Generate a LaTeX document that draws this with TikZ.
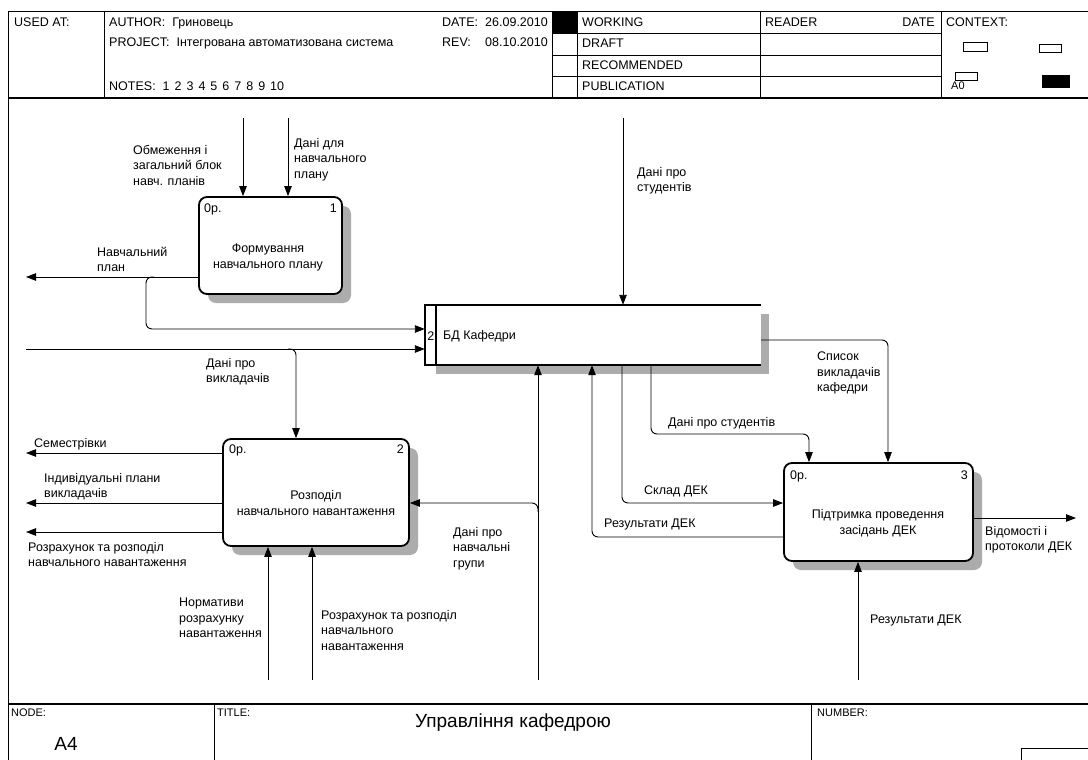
\documentclass[tikz,border=0pt]{standalone}
\usepackage{fontspec}
\setmainfont{Liberation Sans}
\usetikzlibrary{arrows.meta,calc}
\definecolor{shadowgray}{RGB}{172,172,172}
\begin{document}
\begin{tikzpicture}[x=1pt,y=-1pt,
  lbl/.style={anchor=north west,inner sep=0pt,align=left,font=\fontsize{12.5}{15.5}\selectfont},
  hdr/.style={anchor=north west,inner sep=0pt,font=\fontsize{12.5}{15}\selectfont},
  hdrr/.style={anchor=north east,inner sep=0pt,font=\fontsize{12.5}{15}\selectfont},
  small/.style={anchor=north west,inner sep=0pt,font=\fontsize{11}{13}\selectfont},
  conn/.style={line width=0.9pt,rounded corners=6pt},
  arr/.style={conn,-{Triangle[length=10pt,width=7.5pt]}},
  actbox/.style={draw,line width=1.8pt,rounded corners=8pt,fill=white,inner sep=0pt,
    preaction={draw=none,fill=shadowgray,transform canvas={xshift=9pt,yshift=-9pt}}},
  boxtext/.style={anchor=north,inner sep=0pt,align=center,font=\fontsize{12.5}{16}\selectfont},
  frame/.style={line width=0.8pt},
  thickframe/.style={line width=1.6pt}
]
\useasboundingbox (0,0) rectangle (1088,760);
\fill[white] (0,0) rectangle (1088,760);
\clip (0,0) rectangle (1088,760);

% ---------- header ----------
\draw[frame] (8,760) -- (8,11) -- (1088,11);
\draw[thickframe] (8,98) -- (1088,98);
\foreach \x in {104,552,577,760,941} \draw[frame] (\x,11) -- (\x,98);
\foreach \y in {33,55,76} \draw[frame] (552,\y) -- (941,\y);
\fill (552,11) rectangle (577,33);
\node[hdr] (usedat) at (14,18) {USED AT:};
\node[hdr] (author) at (109,18) {AUTHOR:\ \ Гриновець};
\node[hdr] (project) at (109,38) {PROJECT:\ \ Інтегрована автоматизована система};
\node[hdr] (notes) at (109,82) {NOTES:\ \ 1\hspace{5pt}2\hspace{5pt}3\hspace{5pt}4\hspace{5pt}5\hspace{5pt}6\hspace{5pt}7\hspace{5pt}8\hspace{5pt}9\hspace{5pt}10};
\node[hdr] (datel) at (442,18) {DATE:};
\node[hdrr] (datev) at (548,18) {26.09.2010};
\node[hdr] (revl) at (442,38) {REV:};
\node[hdrr] (revv) at (548,38) {08.10.2010};
\node[hdr] (working) at (582,18) {WORKING};
\node[hdr] (draft) at (582,39) {DRAFT};
\node[hdr] (recom) at (582,61) {RECOMMENDED};
\node[hdr] (public) at (582,82) {PUBLICATION};
\node[hdr] (reader) at (765,18) {READER};
\node[hdrr] (rdate) at (935,18) {DATE};
\node[hdr] (context) at (946,18) {CONTEXT:};
\draw[frame] (963,42) rectangle (987,51);
\draw[frame] (1039,44) rectangle (1061,52);
\draw[frame] (955,72) rectangle (977,80);
\fill (1042,75) rectangle (1070,88);
\node[small] (a0) at (951,82) {A0};

% ---------- footer ----------
\draw[thickframe] (8,704) -- (1088,704);
\draw[frame] (214,704) -- (214,760);
\draw[frame] (811,704) -- (811,760);
\draw[frame] (1021,748) rectangle (1100,770);
\node[small] (nodel) at (11,709) {NODE:};
\node[small] (titlel) at (217,709) {TITLE:};
\node[small] (numberl) at (817,709) {NUMBER:};
\node[inner sep=0pt,font=\fontsize{19}{22}\selectfont] (title) at (513,723) {Управління кафедрою};
\node[inner sep=0pt,font=\fontsize{19}{22}\selectfont] (nodeno) at (66,744) {A4};

% ---------- activity boxes ----------
\node[actbox,minimum width=143pt,minimum height=97pt] (b1) at (270.5,245.5) {};
\node[actbox,minimum width=186pt,minimum height=107pt] (b2) at (316,492.5) {};
\node[actbox,minimum width=189pt,minimum height=98pt] (b3) at (878.5,512) {};

\node[lbl] (b1c) at (204,204) {0р.};
\node[lbl,anchor=north east] (b1n) at (337,204) {1};
\node[boxtext] (b1t) at (268,244) {Формування\\навчального плану};

\node[lbl] (b2c) at (229,445) {0р.};
\node[lbl,anchor=north east] (b2n) at (404,445) {2};
\node[boxtext] (b2t) at (316,490) {Розподіл\\навчального навантаження};

\node[lbl] (b3c) at (790,471) {0р.};
\node[lbl,anchor=north east] (b3n) at (968,471) {3};
\node[boxtext] (b3t) at (878,509) {Підтримка проведення\\засідань ДЕК};

% ---------- data store ----------
\node[minimum width=336pt,minimum height=60pt,inner sep=0pt] (bd) at (593,335) {};
\fill[shadowgray] ($(bd.north west)+(11,9)$) rectangle ($(bd.south east)+(8,9)$);
\fill[white] (bd.north west) rectangle (bd.south east);
\draw[line width=1.8pt] (bd.north east) -- (bd.north west) -- (bd.south west) -- (bd.south east);
\draw[line width=1.8pt] ($(bd.north west)+(11,0)$) -- ($(bd.south west)+(11,0)$);
\node[lbl,anchor=center] (bdn) at ($(bd.west)+(6,1)$) {2};
\node[lbl,anchor=west] (bdt) at (443,336) {БД Кафедри};

% ---------- connector ends ----------
\coordinate (t1) at (243,118);
\coordinate (t2) at (288,118);
\coordinate (t3) at (623,118);
\coordinate (l1) at (26,277);
\coordinate (j1) at (154,277);
\coordinate (c1) at (146,329);
\coordinate (l2) at (26,349);
\coordinate (j2) at (288,349);
\coordinate (x2) at (296,349);
\coordinate (l3) at (26,453);
\coordinate (l4) at (26,503);
\coordinate (l5) at (26,532);
\coordinate (bt1) at (268,680);
\coordinate (bt2) at (312,680);
\coordinate (bt3) at (538,680);
\coordinate (bt4) at (858,680);
\coordinate (g1) at (538,512);
\coordinate (g2) at (538,503);
\coordinate (k1) at (592,537);
\coordinate (k2) at (622,503);
\coordinate (k3) at (651,434);
\coordinate (k4) at (809,434);
\coordinate (k5) at (888,340);
\coordinate (r1) at (1076,518);

% ---------- connectors ----------
\draw[arr] (t1) -- (t1 |- b1.north);
\draw[arr] (t2) -- (t2 |- b1.north);
\draw[arr] (t3) -- (t3 |- bd.north);
\draw[arr] (l1 -| b1.west) -- (l1);
\draw[arr] (j1) -| (c1) -- (c1 -| bd.west);
\draw[arr] (l2) -- (l2 -| bd.west);
\draw[arr] (j2) -- (x2) -- (x2 |- b2.north);
\draw[arr] (l3 -| b2.west) -- (l3);
\draw[arr] (l4 -| b2.west) -- (l4);
\draw[arr] (l5 -| b2.west) -- (l5);
\draw[arr] (bt1) -- (bt1 |- b2.south);
\draw[arr] (bt2) -- (bt2 |- b2.south);
\draw[arr] (bt3) -- (bt3 |- bd.south);
\draw[arr] (g1) |- (g2 -| b2.east);
\draw[arr] (k1 -| b3.west) -| (bd.south -| k1);
\draw[arr] (bd.south -| k2) |- (k2 -| b3.west);
\draw[arr] (bd.south -| k3) |- (k4) -- (k4 |- b3.north);
\draw[arr] (k5 -| bd.east) -- (k5) -- (k5 |- b3.north);
\draw[arr] (r1 -| b3.east) -- (r1);
\draw[arr] (bt4) -- (bt4 |- b3.south);

% ---------- connector labels ----------
\node[lbl] (a1) at (133,145) {Обмеження і\\загальний блок\\навч. планів};
\node[lbl] (a2) at (294,138) {Дані для\\навчального\\плану};
\node[lbl] (a3) at (97,247) {Навчальний\\план};
\node[lbl] (a4) at (637,167) {Дані про\\студентів};
\node[lbl] (a5) at (206,358) {Дані про\\викладачів};
\node[lbl] (a6) at (817,352) {Список\\викладачів\\кафедри};
\node[lbl] (a7) at (668,417) {Дані про студентів};
\node[lbl] (a8) at (34,438) {Семестрівки};
\node[lbl] (a9) at (44,473) {Індивідуальні плани\\викладачів};
\node[lbl] (a10) at (644,486) {Склад ДЕК};
\node[lbl] (a11) at (604,519) {Результати ДЕК};
\node[lbl] (a12) at (453,527) {Дані про\\навчальні\\групи};
\node[lbl] (a13) at (985,526) {Відомості і\\протоколи ДЕК};
\node[lbl] (a14) at (28,542) {Розрахунок та розподіл\\навчального навантаження};
\node[lbl] (a15) at (179,598) {Нормативи\\розрахунку\\навантаження};
\node[lbl] (a16) at (321,610) {Розрахунок та розподіл\\навчального\\навантаження};
\node[lbl] (a17) at (870,615) {Результати ДЕК};
\end{tikzpicture}
\end{document}
